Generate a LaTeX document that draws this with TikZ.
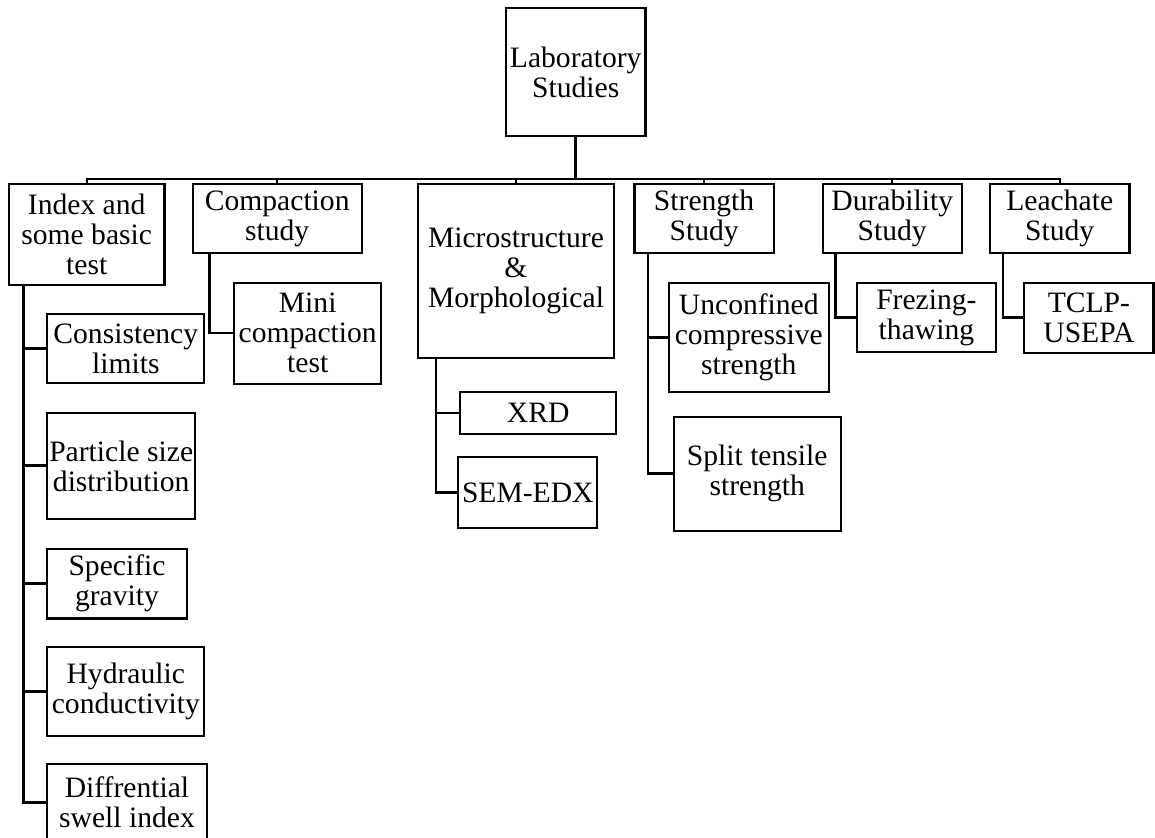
\documentclass[tikz,border=0pt]{standalone}
\usepackage{fontspec}
\setmainfont{Liberation Serif}
\usepackage{tikz}
\usetikzlibrary{positioning}

\begin{document}
\begin{tikzpicture}[x=0.5pt,y=-0.5pt,
  box/.style={draw,line width=1.1pt,align=center,inner sep=0.5pt,
    font=\fontsize{14.8}{15}\selectfont},
  link/.style={line width=1.2pt},
  trunk/.style={line width=1.5pt}]
\useasboundingbox (0,0) rectangle (1155,838);
% top level
\node[box,minimum width=69.7pt,minimum height=63.9pt] (lab) at (575.7,72.2)
  {Laboratory\\Studies};
\coordinate (bus) at (575.7,179);
% studies
\node[box,minimum width=77.7pt,minimum height=50.5pt] (index) at (86.7,234.8)
  {Index and\\some basic\\test};
\node[box,minimum width=84.5pt,minimum height=34.7pt] (comp) at (277.2,218.7)
  {Compaction\\study};
\node[box,minimum width=98.3pt,minimum height=87.2pt] (micro) at (516,271.2)
  {Microstructure\\\&\\Morphological};
\node[box,minimum width=69.6pt,minimum height=34.7pt] (stren) at (704.1,218.7)
  {Strength\\Study};
\node[box,minimum width=69.5pt,minimum height=34.7pt] (dura) at (892.2,218.7)
  {Durability\\Study};
\node[box,minimum width=69.7pt,minimum height=34.7pt] (leach) at (1059.7,218.7)
  {Leachate\\Study};
% tests
\node[box,minimum width=78.5pt,minimum height=34.5pt] (cons) at (125.8,348.8)
  {Consistency\\limits};
\node[box,minimum width=73.9pt,minimum height=53.2pt] (part) at (121.2,465.9)
  {Particle size\\distribution};
\node[box,minimum width=69.7pt,minimum height=34.7pt] (spec) at (117,583.7)
  {Specific\\gravity};
\node[box,minimum width=78.5pt,minimum height=44.4pt] (hydr) at (125.8,691.7)
  {Hydraulic\\conductivity};
\node[box,minimum width=79.7pt,minimum height=38pt] (diff) at (127,802.3)
  {Diffrential\\swell index};
\node[box,minimum width=73.4pt,minimum height=50.5pt] (mini) at (307.7,333.2)
  {Mini\\compaction\\test};
\node[box,minimum width=77.9pt,minimum height=20.9pt] (xrd) at (538.2,413.3)
  {XRD};
\node[box,minimum width=69.5pt,minimum height=35.2pt] (sem) at (527.8,492.5)
  {SEM-EDX};
\node[box,minimum width=79.9pt,minimum height=54.8pt] (ucs) at (748.8,337.5)
  {Unconfined\\compressive\\strength};
\node[box,minimum width=83.5pt,minimum height=57pt] (split) at (757.2,473.7)
  {Split tensile\\strength};
\node[box,minimum width=69.7pt,minimum height=34.2pt] (frez) at (926.4,317.5)
  {Frezing-\\thawing};
\node[box,minimum width=64.6pt,minimum height=35pt] (tclp) at (1088.9,317.7)
  {TCLP-\\USEPA};
% tree lines
\draw[trunk] (lab.south) -- (bus);
\draw[link] (index.north) |- (bus) -| (leach.north);
\draw[link] (comp.north) -- (comp.north |- bus);
\draw[link] (micro.north) -- (micro.north |- bus);
\draw[link] (stren.north) -- (stren.north |- bus);
\draw[link] (dura.north) -- (dura.north |- bus);
\draw[trunk] ([xshift=8pt]index.south west) |- (cons.west);
\draw[trunk] ([xshift=8pt]index.south west) |- (part.west);
\draw[trunk] ([xshift=8pt]index.south west) |- (spec.west);
\draw[trunk] ([xshift=8pt]index.south west) |- (hydr.west);
\draw[trunk] ([xshift=8pt]index.south west) |- (diff.west);
\draw[link] ([xshift=9pt]comp.south west) |- (mini.west);
\draw[link] ([xshift=9.8pt]micro.south west) |- (xrd.west);
\draw[link] ([xshift=9.8pt]micro.south west) |- (sem.west);
\draw[link] ([xshift=7.3pt]stren.south west) |- (ucs.west);
\draw[link] ([xshift=7.3pt]stren.south west) |- (split.west);
\draw[link] ([xshift=7pt]dura.south west) |- (frez.west);
\draw[link] ([xshift=7pt]leach.south west) |- (tclp.west);
\end{tikzpicture}
\end{document}
